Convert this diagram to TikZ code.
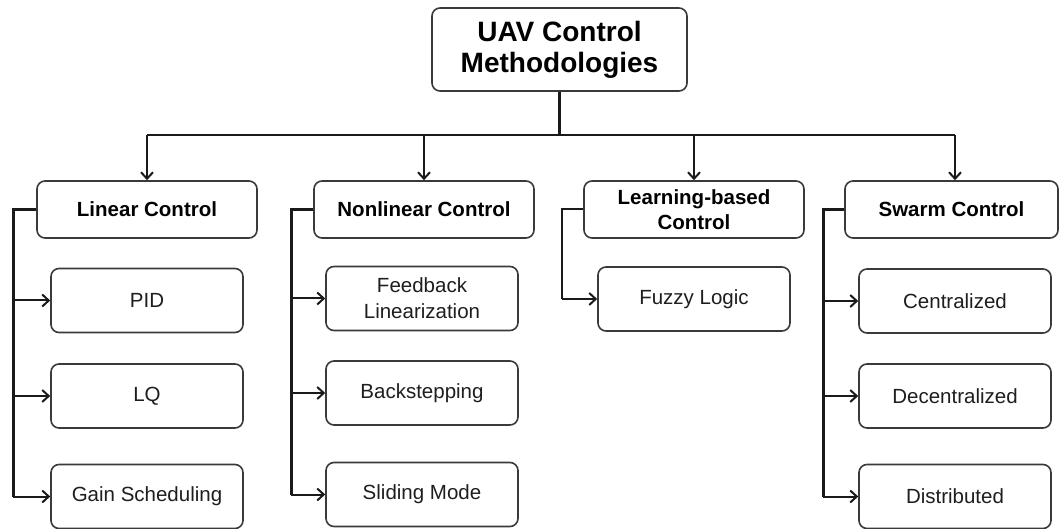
\documentclass[tikz,border=0pt]{standalone}
\usepackage{fontspec}
\setmainfont{Liberation Sans}
\usetikzlibrary{arrows.meta,calc}
\definecolor{boxline}{HTML}{3A3A3A}
\definecolor{wire}{HTML}{1A1A1A}
\definecolor{txt}{HTML}{1E1E1E}
\begin{document}
\begin{tikzpicture}[x=1bp,y=-1bp,
  box/.style={draw=boxline,line width=1.6bp,fill=white,rounded corners=8bp,
    align=center,inner sep=0pt,text=txt},
  rootbox/.style={box,minimum width=255bp,minimum height=83bp,
    font=\fontsize{28bp}{31bp}\selectfont\bfseries,text=black},
  catbox/.style={box,minimum width=220bp,minimum height=57bp,
    font=\fontsize{20.5bp}{25bp}\selectfont\bfseries,text=black},
  leafbox/.style={box,minimum width=192bp,minimum height=64bp,
    font=\fontsize{20.5bp}{26bp}\selectfont},
  bus/.style={draw=wire,line width=2bp},
  trunk/.style={draw=wire,line width=3bp},
  arr/.style={draw=wire,line width=2bp,-{Straight Barb[length=6.5bp,width=12bp,line width=2bp]}}]
\useasboundingbox (0,0) rectangle (1060,529);

% root
\node[rootbox] (root) at (559.5,49.5) {UAV Control\\Methodologies};

% categories
\node[catbox] (lin) at (147,209.5) {Linear Control};
\node[catbox] (non) at (424,209.5) {Nonlinear Control};
\node[catbox] (lea) at (694,209.5) {Learning-based\\Control};
\node[catbox,minimum width=213bp] (swa) at (951.5,209.5) {Swarm Control};

% methods
\node[leafbox] (pid)  at (147,300.5) {PID};
\node[leafbox] (lq)   at (147,396)   {LQ};
\node[leafbox] (gain) at (147,496.5) {Gain Scheduling};

\node[leafbox] (fl) at (422,298.5) {Feedback\\Linearization};
\node[leafbox] (bs) at (422,393)   {Backstepping};
\node[leafbox] (sm) at (422,494.5) {Sliding Mode};

\node[leafbox] (fz) at (694,299) {Fuzzy Logic};

\node[leafbox] (ce) at (955,301)   {Centralized};
\node[leafbox] (de) at (955,396)   {Decentralized};
\node[leafbox] (di) at (955,496.5) {Distributed};

% distribution bus under the root
\coordinate (bL) at (147,135);
\coordinate (bR) at (955,135);
\coordinate (bM) at (root.south |- bL);
\draw[trunk] (root.south) -- (bM);
\draw[bus] (bL) -- (bR);
\draw[arr] (bL) -- (lin.north);
\draw[arr] (bL -| non.north) -- (non.north);
\draw[arr] (bL -| lea.north) -- (lea.north);
\draw[arr] (bR) -- (bR |- swa.north);

% trunk lines down the left side of each category
\coordinate (tLin) at (13,0);
\coordinate (tNon) at (291,0);
\coordinate (tLea) at (562,0);
\coordinate (tSwa) at (823,0);

\draw[trunk] (lin.west) -- (lin.west -| tLin) -- (gain.west -| tLin);
\draw[arr] (pid.west -| tLin) -- (pid.west);
\draw[arr] (lq.west -| tLin) -- (lq.west);
\draw[arr] (gain.west -| tLin) -- (gain.west);

\draw[trunk] (non.west) -- (non.west -| tNon) -- (sm.west -| tNon);
\draw[arr] (fl.west -| tNon) -- (fl.west);
\draw[arr] (bs.west -| tNon) -- (bs.west);
\draw[arr] (sm.west -| tNon) -- (sm.west);

\draw[bus] (lea.west) -- (lea.west -| tLea) -- (fz.west -| tLea);
\draw[arr] (fz.west -| tLea) -- (fz.west);

\draw[trunk] (swa.west) -- (swa.west -| tSwa) -- (di.west -| tSwa);
\draw[arr] (ce.west -| tSwa) -- (ce.west);
\draw[arr] (de.west -| tSwa) -- (de.west);
\draw[arr] (di.west -| tSwa) -- (di.west);
\end{tikzpicture}
\end{document}
